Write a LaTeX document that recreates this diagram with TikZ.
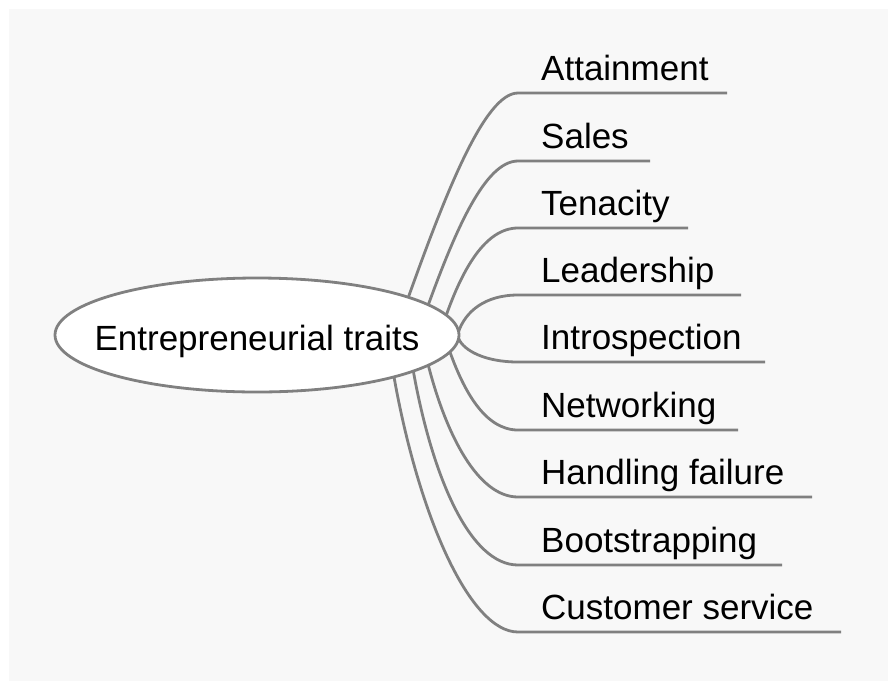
\documentclass[tikz,border=0pt]{standalone}
\usepackage{fontspec}
\setmainfont{Liberation Sans}
\usetikzlibrary{shapes.geometric,calc}
\definecolor{bg}{HTML}{F8F8F8}
\definecolor{ln}{HTML}{808080}
\begin{document}
\begin{tikzpicture}[x=1pt,y=-1pt,
  branch/.style={draw=ln,line width=2.8pt},
  lbl/.style={anchor=base west,inner sep=0pt,font=\fontsize{35}{42}\selectfont},
  root/.style={ellipse,draw=ln,line width=2.8pt,fill=white,minimum width=404pt,minimum height=114pt,inner sep=0pt,outer sep=0pt,text height=30pt,text depth=0pt,font=\fontsize{35}{42}\selectfont}]
\path[use as bounding box, fill=white] (0,0) rectangle (896,691);
\fill[bg] (9,9) rectangle (888,681);
\node[root] (c) at (257,335) {\makebox[0pt][c]{Entrepreneurial traits}};
\foreach \i/\t/\y/\xe/\a/\px/\py/\qx in {
  1/Attainment/93/727/14.6/38/-106/-33,
  2/Sales/161/650/10.7/27/-74/-33,
  3/Tenacity/228/688/6.3/16/-45/-33,
  4/Leadership/295/741/1.2/7/-20/-33,
  5/Introspection/362/765/-1.2/5/12/-33,
  6/Networking/430/738/-5.9/14/39/-33,
  7/Handling failure/497/812/-10.2/18/70/-40,
  8/Bootstrapping/565/782/-13.9/19/106/-48,
  9/Customer service/632/841/-17.2/25/140/-48}{
  \coordinate (s\i) at (c.\a);
  \coordinate (e\i) at (518,\y);
  \coordinate (f\i) at (\xe,\y);
  \draw[branch] (s\i) .. controls +(\px,\py) and +(\qx,0) .. (e\i) -- (f\i);
  \node[lbl] (l\i) at (541,\y-13) {\t};
}
\end{tikzpicture}
\end{document}
